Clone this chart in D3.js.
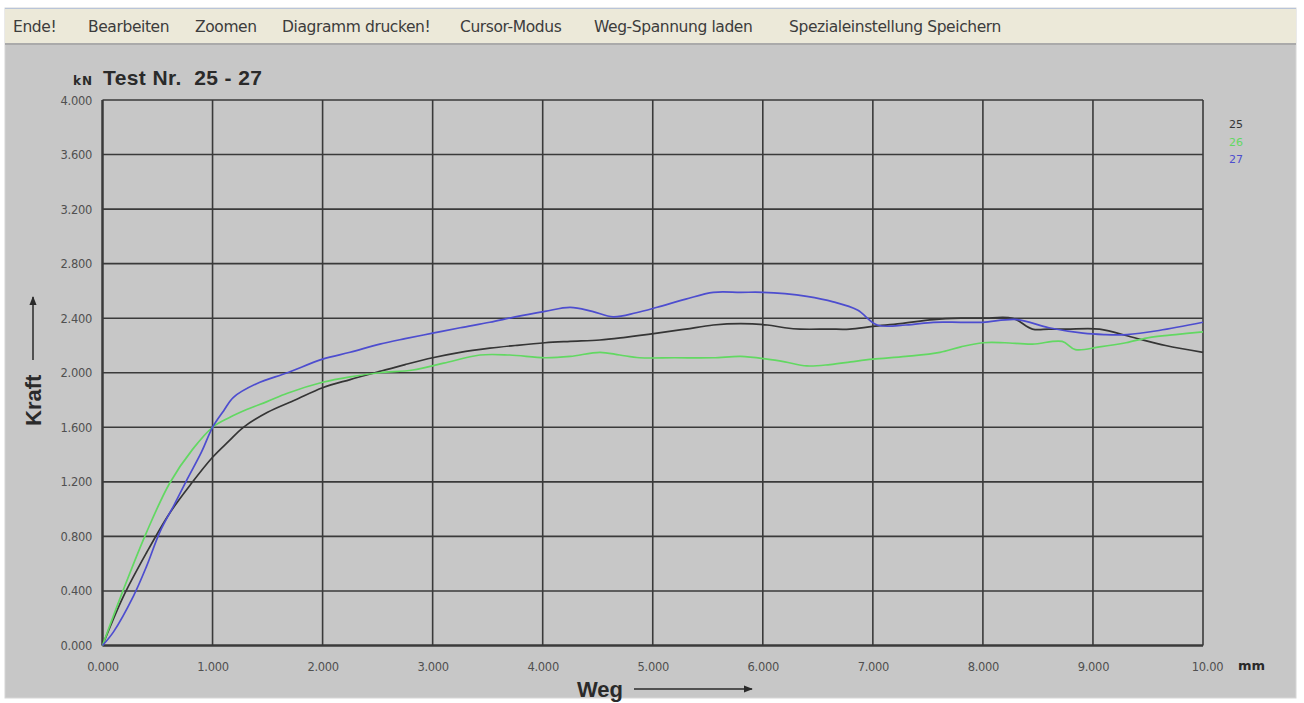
<!DOCTYPE html>
<html>
<head>
<meta charset="utf-8">
<script src="https://cdn.jsdelivr.net/npm/d3@7"></script>
<style>
  body { margin: 0; background: #fff; }
  svg { display: block; }
</style>
</head>
<body>
<div id="chart"></div>
<script>
// menu entries of the program window
const menuItems = ["Ende!", "Bearbeiten", "Zoomen", "Diagramm drucken!", "Cursor-Modus", "Weg-Spannung laden", "Spezialeinstellung Speichern"];
const menuX = [13, 88, 195, 282, 460, 594, 789];

// tick labels
const xTicks = [0, 1, 2, 3, 4, 5, 6, 7, 8, 9, 10];
const xTickLabels = ["0.000", "1.000", "2.000", "3.000", "4.000", "5.000", "6.000", "7.000", "8.000", "9.000", "10.00"];
const yTicks = [0, 0.4, 0.8, 1.2, 1.6, 2.0, 2.4, 2.8, 3.2, 3.6, 4.0];

// series: Weg (mm) / Kraft (kN)
const seriesNames = ["25", "26", "27"];
const seriesColors = ["#353535", "#62d862", "#4d4dcf"];

const test25 = [[0,0],[0.19,0.36],[0.4,0.68],[0.61,0.97],[0.8,1.18],[1.0,1.38],[1.15,1.50],[1.28,1.60],[1.5,1.71],[1.75,1.80],[2.0,1.89],[2.25,1.95],[2.52,2.01],[2.75,2.06],[3.0,2.11],[3.25,2.15],[3.52,2.18],[3.75,2.20],[4.02,2.22],[4.25,2.23],[4.52,2.24],[4.75,2.26],[5.04,2.29],[5.3,2.32],[5.55,2.35],[5.8,2.36],[6.04,2.35],[6.2,2.33],[6.34,2.32],[6.6,2.32],[6.79,2.32],[7.0,2.34],[7.25,2.36],[7.55,2.39],[7.8,2.40],[8.0,2.40],[8.27,2.40],[8.45,2.32],[8.6,2.32],[8.76,2.32],[9.06,2.32],[9.36,2.26],[9.66,2.20],[10.0,2.15]];

const test26 = [[0,0],[0.19,0.41],[0.4,0.83],[0.61,1.19],[0.82,1.44],[1.0,1.60],[1.15,1.67],[1.31,1.73],[1.5,1.79],[1.68,1.85],[2.0,1.93],[2.25,1.97],[2.52,2.00],[2.82,2.02],[3.1,2.07],[3.43,2.13],[3.7,2.13],[4.02,2.11],[4.25,2.12],[4.52,2.15],[4.7,2.13],[4.88,2.11],[5.2,2.11],[5.55,2.11],[5.8,2.12],[6.04,2.10],[6.2,2.08],[6.40,2.05],[6.61,2.06],[6.8,2.08],[7.0,2.10],[7.3,2.12],[7.61,2.15],[7.8,2.19],[8.0,2.22],[8.2,2.22],[8.45,2.21],[8.72,2.23],[8.84,2.17],[9.06,2.19],[9.3,2.22],[9.52,2.26],[9.75,2.28],[10.0,2.30]];

const test27 = [[0,0],[0.1,0.10],[0.28,0.36],[0.4,0.58],[0.52,0.83],[0.65,1.03],[0.77,1.22],[0.9,1.42],[1.0,1.60],[1.1,1.72],[1.19,1.82],[1.4,1.92],[1.68,2.00],[2.0,2.10],[2.25,2.15],[2.52,2.21],[2.75,2.25],[3.0,2.29],[3.25,2.33],[3.52,2.37],[3.75,2.41],[4.02,2.45],[4.25,2.48],[4.45,2.45],[4.64,2.41],[4.85,2.44],[5.04,2.48],[5.3,2.54],[5.55,2.59],[5.8,2.59],[6.0,2.59],[6.2,2.58],[6.4,2.56],[6.64,2.52],[6.86,2.46],[7.04,2.35],[7.3,2.35],[7.55,2.37],[7.8,2.37],[8.0,2.37],[8.31,2.39],[8.6,2.33],[8.91,2.29],[9.1,2.28],[9.31,2.28],[9.6,2.31],[10.0,2.37]];

const allSeries = [test25, test26, test27];

const W = 1304, H = 703;
const svg = d3.select("#chart").append("svg").attr("width", W).attr("height", H);

// window frame
svg.append("rect").attr("x", 5).attr("y", 8).attr("width", 1291).attr("height", 690)
  .attr("fill", "#c7c7c7").attr("stroke", "#d6d6d6");
svg.append("rect").attr("x", 5).attr("y", 8).attr("width", 1291).attr("height", 35)
  .attr("fill", "#ece9d9");
svg.append("line").attr("x1", 5).attr("x2", 1296).attr("y1", 8.5).attr("y2", 8.5).attr("stroke", "#b8c4d8");
svg.append("line").attr("x1", 5).attr("x2", 1296).attr("y1", 44).attr("y2", 44).attr("stroke", "#aaaaaa").attr("stroke-width", 2);

svg.selectAll(".menu").data(menuItems).enter().append("text")
  .attr("class", "menu")
  .attr("x", (d, i) => menuX[i]).attr("y", 32)
  .attr("font-family", "DejaVu Sans, sans-serif").attr("font-size", 15.5)
  .attr("letter-spacing", -0.4)
  .attr("fill", "#3c3c3c")
  .text(d => d);

// scales
const x = d3.scaleLinear().domain([0, 10]).range([102.5, 1203]);
const y = d3.scaleLinear().domain([0, 4]).range([645.5, 100]);

// grid
const grid = svg.append("g");
grid.selectAll(".vg").data(xTicks).enter().append("line")
  .attr("x1", d => x(d)).attr("x2", d => x(d)).attr("y1", y(4)).attr("y2", y(0))
  .attr("stroke", "#3a3a3a").attr("stroke-width", d => d === 0 ? 2.5 : 1.6);
grid.selectAll(".hg").data(yTicks).enter().append("line")
  .attr("x1", x(0)).attr("x2", x(10)).attr("y1", d => y(d)).attr("y2", d => y(d))
  .attr("stroke", "#3a3a3a").attr("stroke-width", d => d === 0 ? 2.5 : 1.6);

// axes labels through d3 axes
const xAxis = d3.axisBottom(x).tickValues(xTicks).tickSize(0).tickPadding(0)
  .tickFormat((d, i) => xTickLabels[i]);
const gx = svg.append("g").attr("transform", "translate(0," + 671 + ")").call(xAxis);
gx.select(".domain").remove();
gx.selectAll("text").attr("dy", 0).attr("dx", d => d === 10 ? 4 : 0)
  .attr("font-family", "DejaVu Sans, sans-serif")
  .attr("font-size", 11.5).attr("letter-spacing", -0.3).attr("fill", "#505050");

const yAxis = d3.axisLeft(y).tickValues(yTicks).tickSize(0).tickPadding(0)
  .tickFormat(d3.format(".3f"));
const gy = svg.append("g").attr("transform", "translate(" + 92 + ",0)").call(yAxis);
gy.select(".domain").remove();
gy.selectAll("text").attr("dy", "0.35em").attr("font-family", "DejaVu Sans, sans-serif")
  .attr("font-size", 11.5).attr("letter-spacing", -0.3).attr("fill", "#505050");

// curves
const line = d3.line().x(d => x(d[0])).y(d => y(d[1])).curve(d3.curveCatmullRom.alpha(0.5));
svg.selectAll(".curve").data(allSeries).enter().append("path")
  .attr("class", "curve")
  .attr("d", line)
  .attr("fill", "none")
  .attr("stroke", (d, i) => seriesColors[i])
  .attr("stroke-width", 1.7);

// legend
svg.selectAll(".leg").data(seriesNames).enter().append("text")
  .attr("x", 1229).attr("y", (d, i) => 128 + i * 17.5)
  .attr("font-family", "DejaVu Sans, sans-serif").attr("font-size", 11)
  .attr("fill", (d, i) => seriesColors[i])
  .text(d => d);

// titles
svg.append("text").attr("x", 73).attr("y", 85)
  .attr("font-family", "DejaVu Sans, sans-serif").attr("font-size", 12).attr("font-weight", "bold")
  .attr("letter-spacing", 1)
  .attr("fill", "#2a2a2a").text("kN");
svg.append("text").attr("x", 103).attr("y", 85)
  .attr("font-family", "Liberation Sans, Arial, sans-serif").attr("font-size", 21).attr("font-weight", "bold")
  .attr("letter-spacing", 0.4)
  .attr("fill", "#2a2a2a").attr("xml:space", "preserve").text("Test Nr.  25 - 27");

svg.append("text").attr("x", 1238).attr("y", 670)
  .attr("font-family", "DejaVu Sans, sans-serif").attr("font-size", 13).attr("font-weight", "bold")
  .attr("fill", "#2a2a2a").text("mm");

svg.append("text").attr("x", 577).attr("y", 697)
  .attr("font-family", "Liberation Sans, Arial, sans-serif").attr("font-size", 22).attr("font-weight", "bold")
  .attr("fill", "#2a2a2a").text("Weg");

svg.append("text").attr("transform", "translate(41,426) rotate(-90)")
  .attr("font-family", "Liberation Sans, Arial, sans-serif").attr("font-size", 22).attr("font-weight", "bold")
  .attr("fill", "#2a2a2a").text("Kraft");

// arrows
const defs = svg.append("defs");
defs.append("marker").attr("id", "arr").attr("viewBox", "0 0 10 10").attr("refX", 9).attr("refY", 5)
  .attr("markerWidth", 6).attr("markerHeight", 6).attr("orient", "auto")
  .append("path").attr("d", "M0,1 L10,5 L0,9 Z").attr("fill", "#2a2a2a");
svg.append("line").attr("x1", 634).attr("x2", 752).attr("y1", 689).attr("y2", 689)
  .attr("stroke", "#2a2a2a").attr("stroke-width", 1.5).attr("marker-end", "url(#arr)");
svg.append("line").attr("x1", 33).attr("x2", 33).attr("y1", 360).attr("y2", 297)
  .attr("stroke", "#2a2a2a").attr("stroke-width", 1.5).attr("marker-end", "url(#arr)");
</script>
</body>
</html>
